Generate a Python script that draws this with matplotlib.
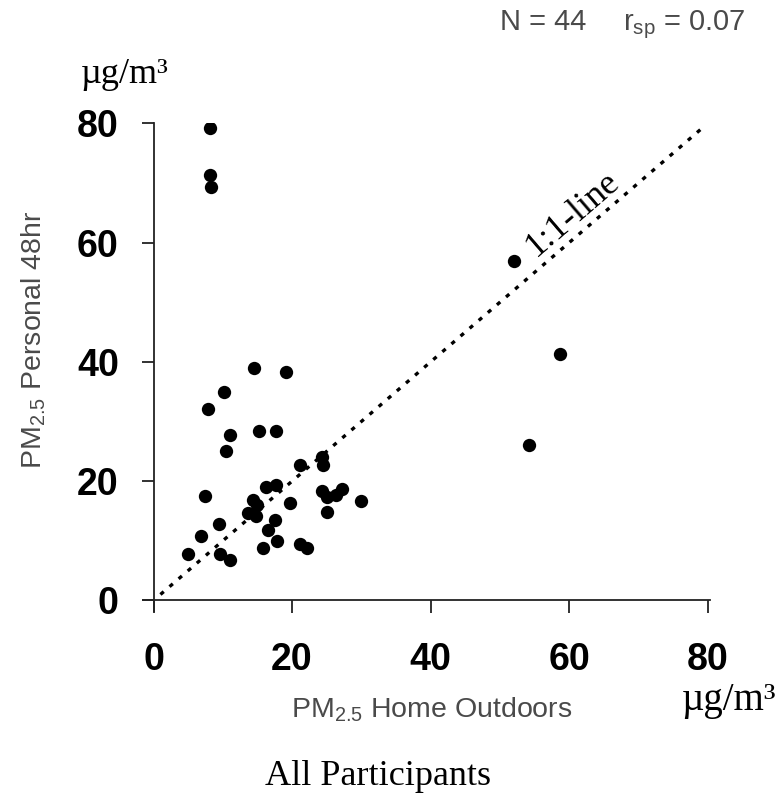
import numpy as np
import matplotlib
matplotlib.use("Agg")
import matplotlib.pyplot as plt

# ---- data ----
home_outdoor = [14.5, 19.1, 10.2, 7.9, 15.3, 17.7, 11.1, 10.5, 21.1, 24.3, 24.5,
                7.4, 16.2, 17.7, 14.3, 14.9, 19.7, 24.3, 25.0, 26.4, 27.2, 30.0,
                25.1, 13.7, 14.8, 17.5, 16.6, 9.5, 6.8, 17.8, 15.8, 21.1, 22.2,
                5.0, 9.6, 11.1, 8.1, 8.1, 8.3, 52.1, 58.7, 54.2]
personal_48hr = [39.0, 38.3, 34.9, 32.1, 28.5, 28.5, 27.7, 25.1, 22.7, 24.1, 22.7,
                 17.6, 19.0, 19.4, 16.9, 16.0, 16.3, 18.3, 17.4, 17.7, 18.7, 16.6,
                 14.9, 14.6, 14.1, 13.5, 11.8, 12.8, 10.8, 9.9, 8.8, 9.5, 8.8,
                 7.8, 7.8, 6.8, 79.3, 71.4, 69.3, 57.0, 41.4, 26.1]
tick_values = [0, 20, 40, 60, 80]
tick_labels = ["0", "20", "40", "60", "80"]
one_to_one = [1, 79]
n_label = "N = 44"
r_label = r"r$_{\mathregular{sp}}$ = 0.07"

sans = "Liberation Sans"
serif = "Liberation Serif"
plt.rcParams["mathtext.default"] = "regular"

gray = "#4a4a4a"

fig = plt.figure(figsize=(7.83, 7.96), dpi=100)
ax = fig.add_axes([0.1828, 0.2322, 0.7235, 0.6127])
ax.set_xlim(-1.5, 80.3)
ax.set_ylim(-1.8, 80.0)

ax.scatter(home_outdoor, personal_48hr, s=92, color="black", marker="o",
           linewidths=0, zorder=3)
ax.plot(one_to_one, one_to_one, color="black", lw=2.4,
        linestyle=(0, (1.3, 2.3)), zorder=2)

for s in ["top", "right"]:
    ax.spines[s].set_visible(False)
ax.spines["left"].set_position(("data", 0))
ax.spines["bottom"].set_position(("data", 0))
for s in ["left", "bottom"]:
    ax.spines[s].set_linewidth(1.3)
    ax.spines[s].set_color("#222222")

ax.set_xticks(tick_values)
ax.set_xticklabels(tick_labels)
ax.set_yticks(tick_values)
ax.set_yticklabels(tick_labels)
ax.tick_params(axis="both", direction="out", length=9, width=1.3, color="#222222")
ax.tick_params(axis="x", pad=21)
ax.tick_params(axis="y", pad=16)
for lab in ax.get_xticklabels() + ax.get_yticklabels():
    lab.set_fontfamily(sans)
    lab.set_fontweight("bold")
    lab.set_fontsize(27)

# 1:1-line label
p1 = ax.transData.transform((0, 0))
p2 = ax.transData.transform((80, 80))
ang = np.degrees(np.arctan2(p2[1] - p1[1], p2[0] - p1[0]))
ax.text(60.5, 64.8, "1:1-line", family=serif, fontsize=26, rotation=ang,
        rotation_mode="anchor", ha="center", va="center")

# axis labels
fig.text(34 / 783, 1 - 340 / 796, r"PM$_{2.5}$ Personal 48hr", family=sans,
         fontsize=20.5, color=gray, rotation=90, ha="center", va="center")
fig.text(431.5 / 783, 1 - 717 / 796, r"PM$_{2.5}$ Home Outdoors", family=sans,
         fontsize=20.5, color=gray, ha="center", va="baseline")

# units
fig.text(81 / 783, 1 - 83 / 796, "µg/m³", family=serif, fontsize=26,
         ha="left", va="baseline")
fig.text(682 / 783, 1 - 710 / 796, "µg/m³", family=serif, fontsize=28,
         ha="left", va="baseline")

# title / stats
fig.text(378 / 783, 1 - 785 / 796, "All Participants", family=serif, fontsize=26,
         ha="center", va="baseline")
fig.text(500 / 783, 1 - 30 / 796, n_label, family=sans, fontsize=21, color=gray,
         ha="left", va="baseline")
fig.text(623 / 783, 1 - 30 / 796, r_label, family=sans, fontsize=21, color=gray,
         ha="left", va="baseline")

fig.savefig("out.png", dpi=100)
